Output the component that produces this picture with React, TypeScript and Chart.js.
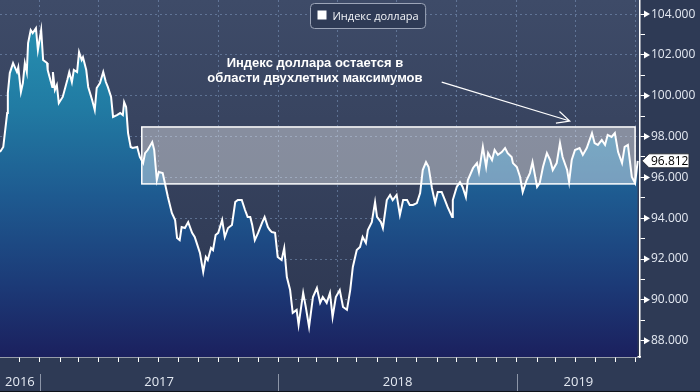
import React, { useEffect, useRef } from 'react';
import { Chart, registerables } from 'chart.js';

Chart.register(...registerables);

const SERIES_LABEL = 'Индекс доллара';
const START_UTC = Date.UTC(2016, 10, 1); // day 0 = 2016-11-01
const DAY_MS = 86400000;
const X_MAX_DAYS = 979.5;
const Y_MIN = 87.2;
const Y_MAX = 104.69;

// days since 2016-11-01
const dayOffsets = [
  0, 5, 11, 12, 15, 20, 26, 28, 32, 35,
  38, 41, 43, 47, 50, 55, 58, 63, 66, 72,
  73, 80, 81, 84, 87, 90, 96, 103, 106, 110,
  113, 118, 121, 125, 127, 132, 135, 141, 145, 148,
  153, 158, 162, 165, 170, 173, 179, 184, 188, 190,
  193, 196, 200, 203, 210, 214, 219, 222, 226, 233,
  236, 240, 243, 249, 252, 257, 263, 268, 271, 275,
  278, 283, 288, 294, 298, 301, 306, 311, 315, 318,
  323, 326, 330, 334, 340, 344, 349, 355, 360, 364,
  370, 375, 379, 383, 386, 390, 395, 401, 405, 410,
  413, 416, 421, 425, 431, 435, 439, 444, 448, 454,
  457, 464, 468, 473, 479, 485, 490, 494, 500, 505,
  509, 514, 520, 525, 531, 536, 540, 546, 551, 555,
  560, 563, 569, 574, 577, 583, 586, 592, 597, 601,
  607, 612, 617, 623, 627, 632, 638, 643, 647, 652,
  656, 661, 666, 670, 676, 681, 685, 692, 693, 699,
  704, 708, 713, 716, 724, 730, 733, 739, 744, 747,
  753, 757, 762, 768, 773, 777, 783, 785, 791, 796,
  800, 806, 811, 815, 822, 826, 831, 837, 842, 846,
  852, 857, 861, 868, 871, 875, 880, 887, 892, 898,
  906, 910, 915, 921, 926, 930, 936, 941, 946, 952,
  956, 961, 967, 972, 976,
];

const dxyValues = [
  97.24, 97.49, 99.15, 100.13, 101.11, 101.6, 101.16, 101.4, 100.18, 100.62,
  101.6, 101.16, 102.58, 103.22, 103.07, 103.31, 102.24, 103.22, 101.75, 101.6,
  101.26, 100.43, 101.16, 100.28, 100.52, 99.64, 99.94, 100.77, 101.16, 100.67,
  101.26, 101.16, 102.14, 101.75, 101.89, 101.26, 100.43, 99.79, 99.3, 100.38,
  100.62, 101.16, 100.67, 100.43, 99.94, 98.96, 99.05, 99.15, 99.05, 99.69,
  99.45, 98.17, 97.49, 97.44, 97.49, 97.0, 96.7, 97.19, 97.34, 97.73,
  97.34, 95.87, 96.26, 96.21, 95.77, 95.04, 94.26, 93.91, 93.03, 92.93,
  93.57, 93.52, 93.81, 93.28, 93.08, 92.79, 92.3, 91.37, 92.1, 91.95,
  92.54, 92.44, 93.18, 93.28, 93.91, 93.08, 93.52, 93.67, 94.79, 94.89,
  94.89, 94.4, 94.06, 94.06, 93.67, 92.93, 93.28, 93.77, 94.06, 93.57,
  93.42, 93.32, 93.28, 92.1, 91.95, 92.54, 91.12, 90.48, 89.36, 89.51,
  88.77, 90.34, 89.65, 88.67, 90.14, 90.58, 89.85, 90.14, 89.85, 90.34,
  89.16, 90.14, 90.48, 89.65, 89.51, 90.48, 91.61, 92.44, 92.59, 93.08,
  92.79, 93.42, 93.81, 94.79, 94.06, 93.81, 93.52, 94.89, 95.14, 94.89,
  95.14, 94.16, 94.89, 94.89, 94.65, 94.65, 94.74, 95.23, 96.36, 96.75,
  96.51, 95.48, 94.74, 95.28, 95.28, 94.89, 94.55, 94.06, 94.89, 95.53,
  95.77, 95.53, 95.04, 95.87, 96.46, 96.7, 96.26, 97.49, 96.51, 97.19,
  96.85, 97.34, 97.1, 97.24, 97.44, 97.19, 97.0, 96.7, 96.51, 96.02,
  95.28, 95.87, 96.21, 96.75, 95.53, 95.72, 96.51, 97.19, 96.85, 96.36,
  96.7, 97.68, 97.0, 96.36, 95.77, 96.85, 97.34, 97.44, 97.1, 97.44,
  98.17, 97.68, 97.59, 97.83, 97.59, 98.08, 97.98, 98.17, 97.24, 96.7,
  97.49, 97.59, 96.02, 95.72, 96.812,
];

const yearLabels = ['2016', '2017', '2018', '2019'];
const yearNumbers = [2016, 2017, 2018, 2019];
const yTickMin = 88;
const yTickMax = 104;
const lastValueText = '96.812';

const noteLines = ['Индекс доллара остается в', 'области двухлетних максимумов'];
const notePos = { day: 482, value: 101.6 };
const arrowFrom = { day: 676, value: 100.67 };
const arrowTo = { day: 872, value: 98.76 };
const rangeBox = { fromDay: 217, toDay: 972, low: 95.68, high: 98.47 };

const dayOf = (y: number, m: number) => (Date.UTC(y, m, 1) - START_UTC) / DAY_MS;

const monthTicks: number[] = [];
for (let y = 2016, m = 11; dayOf(y, m) <= X_MAX_DAYS; ) {
  monthTicks.push(dayOf(y, m));
  m++;
  if (m > 11) { m = 0; y++; }
}
const quarterTicks = new Set<number>();
for (let y = 2016; y <= 2019; y++) for (const m of [0, 3, 6, 9]) quarterTicks.add(dayOf(y, m));
const yearBoundaries = yearNumbers.slice(1).map((y) => dayOf(y, 0));
const yearMids = yearNumbers.map((y) => {
  const s = Math.max(0, dayOf(y, 0));
  const e = Math.min(X_MAX_DAYS, dayOf(y + 1, 0));
  return (s + e) / 2;
});

const GRID_COLOR = 'rgba(125,152,190,0.55)';
const FONT = '"Open Sans", "Liberation Sans", sans-serif';

const decorPlugin = {
  id: 'decor',
  beforeDraw(chart: any) {
    const { ctx, chartArea: a, width, height } = chart;
    ctx.save();
    ctx.fillStyle = '#2E3A55';
    ctx.fillRect(0, 0, width, height);
    const g = ctx.createLinearGradient(0, a.top, 0, a.bottom);
    g.addColorStop(0, '#3E4B68');
    g.addColorStop(1, '#2C3650');
    ctx.fillStyle = g;
    ctx.fillRect(a.left, a.top, a.right - a.left, a.bottom - a.top);
    ctx.restore();
  },
  afterDatasetsDraw(chart: any) {
    const { ctx } = chart;
    const xs = chart.scales.x;
    const ys = chart.scales.y;
    const x0 = xs.getPixelForValue(rangeBox.fromDay);
    const x1 = xs.getPixelForValue(rangeBox.toDay);
    const y0 = ys.getPixelForValue(rangeBox.high);
    const y1 = ys.getPixelForValue(rangeBox.low);
    ctx.save();
    ctx.fillStyle = 'rgba(255,255,255,0.4)';
    ctx.fillRect(x0, y0, x1 - x0, y1 - y0);
    ctx.strokeStyle = '#FFFFFF';
    ctx.lineWidth = 1.5;
    ctx.strokeRect(x0, y0, x1 - x0, y1 - y0);
    ctx.restore();
  },
  afterDraw(chart: any) {
    const { ctx, chartArea: a, height } = chart;
    const xs = chart.scales.x;
    const ys = chart.scales.y;
    ctx.save();

    // year separators in the bottom band
    ctx.strokeStyle = '#8C95A8';
    ctx.lineWidth = 1;
    for (const d of yearBoundaries) {
      const px = Math.round(xs.getPixelForValue(d)) + 0.5;
      ctx.beginPath();
      ctx.moveTo(px, a.bottom + 17);
      ctx.lineTo(px, height);
      ctx.stroke();
    }
    ctx.fillStyle = '#0E121B';
    ctx.fillRect(0, height - 1, chart.width, 1);

    // arrow heads on major y ticks
    ctx.fillStyle = '#FFFFFF';
    for (let v = yTickMin; v <= yTickMax; v += 2) {
      const py = ys.getPixelForValue(v);
      ctx.beginPath();
      ctx.moveTo(a.right + 4, py - 3.5);
      ctx.lineTo(a.right + 4, py + 3.5);
      ctx.lineTo(a.right + 10, py);
      ctx.closePath();
      ctx.fill();
    }

    // last value label
    const lastVal = dxyValues[dxyValues.length - 1];
    const ly = ys.getPixelForValue(lastVal);
    const lx = a.right + 2;
    ctx.beginPath();
    ctx.moveTo(lx, ly);
    ctx.lineTo(lx + 7, ly - 7);
    ctx.lineTo(lx + 47, ly - 7);
    ctx.lineTo(lx + 47, ly + 7);
    ctx.lineTo(lx + 7, ly + 7);
    ctx.closePath();
    ctx.fillStyle = '#FFFFFF';
    ctx.fill();
    ctx.strokeStyle = '#2A2F3A';
    ctx.lineWidth = 1;
    ctx.stroke();
    ctx.fillStyle = '#000000';
    ctx.font = `12px ${FONT}`;
    ctx.textAlign = 'left';
    ctx.textBaseline = 'middle';
    ctx.fillText(lastValueText, lx + 9, ly + 0.5);

    // legend
    ctx.font = `11px ${FONT}`;
    const tw = ctx.measureText(SERIES_LABEL).width;
    const bw = 7 + 9 + 6 + tw + 7;
    const bx = Math.round(368 - bw / 2) + 0.5;
    const by = 3.5;
    const bh = 25;
    ctx.beginPath();
    ctx.roundRect(bx, by, bw, bh, 4);
    ctx.fillStyle = '#2F3B56';
    ctx.fill();
    ctx.strokeStyle = '#9CA5B8';
    ctx.lineWidth = 1;
    ctx.stroke();
    ctx.fillStyle = '#FFFFFF';
    ctx.fillRect(bx + 7, by + 7, 9, 9);
    ctx.textBaseline = 'middle';
    ctx.fillStyle = '#F2F4F8';
    ctx.fillText(SERIES_LABEL, bx + 22, by + bh / 2 + 0.5);

    // annotation text
    ctx.font = `bold 13px "Liberation Sans", Arial, sans-serif`;
    ctx.textAlign = 'center';
    ctx.fillStyle = '#FFFFFF';
    const nx = xs.getPixelForValue(notePos.day);
    const ny = ys.getPixelForValue(notePos.value);
    noteLines.forEach((t, i) => ctx.fillText(t, nx, ny + i * 15));

    // annotation arrow
    const ax0 = xs.getPixelForValue(arrowFrom.day);
    const ay0 = ys.getPixelForValue(arrowFrom.value);
    const ax1 = xs.getPixelForValue(arrowTo.day);
    const ay1 = ys.getPixelForValue(arrowTo.value);
    const ang = Math.atan2(ay1 - ay0, ax1 - ax0);
    ctx.strokeStyle = '#FFFFFF';
    ctx.lineWidth = 1.2;
    ctx.beginPath();
    ctx.moveTo(ax0, ay0);
    ctx.lineTo(ax1, ay1);
    const hl = 14;
    ctx.moveTo(ax1 + hl * Math.cos(ang + Math.PI - 0.45), ay1 + hl * Math.sin(ang + Math.PI - 0.45));
    ctx.lineTo(ax1, ay1);
    ctx.lineTo(ax1 + hl * Math.cos(ang + Math.PI + 0.45), ay1 + hl * Math.sin(ang + Math.PI + 0.45));
    ctx.stroke();

    ctx.restore();
  },
};

export default function App() {
  const ref = useRef<HTMLCanvasElement>(null);
  useEffect(() => {
    document.body.style.margin = '0';
    const canvas = ref.current!;
    const points = dayOffsets.map((d, i) => ({ x: d, y: dxyValues[i] }));
    const chart = new Chart(canvas, {
      type: 'line',
      data: {
        datasets: [
          {
            label: SERIES_LABEL,
            data: points,
            borderColor: '#FFFFFF',
            borderWidth: 2,
            pointRadius: 0,
            tension: 0,
            fill: 'start',
            backgroundColor: (c: any) => {
              const { chart: ch } = c;
              const a = ch.chartArea;
              if (!a) return '#22609A';
              const g = ch.ctx.createLinearGradient(0, a.top, 0, a.bottom);
              g.addColorStop(0, '#2896B5');
              g.addColorStop(0.3, '#217BA3');
              g.addColorStop(0.55, '#1E5A90');
              g.addColorStop(0.8, '#1C3A77');
              g.addColorStop(1, '#1B205E');
              return g;
            },
          },
        ],
      },
      options: {
        responsive: false,
        animation: false,
        devicePixelRatio: 1,
        layout: { padding: 0 },
        plugins: { legend: { display: false }, tooltip: { enabled: false } },
        scales: {
          x: {
            type: 'linear',
            position: 'bottom',
            min: 0,
            max: X_MAX_DAYS,
            weight: 0,
            z: 1,
            afterBuildTicks: (s: any) => { s.ticks = monthTicks.map((v) => ({ value: v })); },
            afterFit: (s: any) => { s.height = 5; s.paddingLeft = 0; s.paddingRight = 0; },
            ticks: { display: false, autoSkip: false },
            grid: {
              color: (c: any) => (c.tick && quarterTicks.has(c.tick.value) ? GRID_COLOR : 'rgba(0,0,0,0)'),
              tickColor: '#FFFFFF',
              tickLength: 5,
              tickWidth: 1,
              lineWidth: 1,
            },
            border: { color: '#FFFFFF', width: 1.5, dash: [2, 3] },
          },
          xYear: {
            type: 'linear',
            position: 'bottom',
            min: 0,
            max: X_MAX_DAYS,
            weight: 1,
            afterBuildTicks: (s: any) => { s.ticks = yearMids.map((v) => ({ value: v })); },
            afterFit: (s: any) => { s.height = 30; s.paddingLeft = 0; s.paddingRight = 0; },
            ticks: {
              autoSkip: false,
              maxRotation: 0,
              padding: 12,
              color: '#E4E9F2',
              font: { family: FONT, size: 13 },
              callback: (_v: any, i: number) => yearLabels[i],
            },
            grid: { display: false, drawTicks: false },
            border: { display: false },
          },
          y: {
            type: 'linear',
            position: 'right',
            min: Y_MIN,
            max: Y_MAX,
            z: 1,
            afterBuildTicks: (s: any) => {
              const t = [];
              for (let v = yTickMin; v <= yTickMax; v++) t.push({ value: v });
              s.ticks = t;
            },
            afterFit: (s: any) => { s.width = 60; s.paddingTop = 0; s.paddingBottom = 0; },
            ticks: {
              autoSkip: false,
              padding: 6,
              color: '#E4E9F2',
              font: { family: FONT, size: 12 },
              callback: (v: any) => (Number(v) % 2 === 0 ? Number(v).toFixed(3) : ''),
            },
            grid: {
              color: (c: any) => (c.tick && c.tick.value % 2 === 0 ? GRID_COLOR : 'rgba(0,0,0,0)'),
              tickColor: '#FFFFFF',
              tickLength: 5,
              tickWidth: 1,
              lineWidth: 1,
            },
            border: { color: '#FFFFFF', width: 1.5, dash: [2, 3] },
          },
        },
      },
      plugins: [decorPlugin],
    } as any);
    return () => chart.destroy();
  }, []);
  return (
    <div style={{ position: 'fixed', left: 0, top: 0, width: 700, height: 392, background: '#2E3A55' }}>
      <canvas ref={ref} width={700} height={392} style={{ display: 'block', width: 700, height: 392 }} />
    </div>
  );
}
